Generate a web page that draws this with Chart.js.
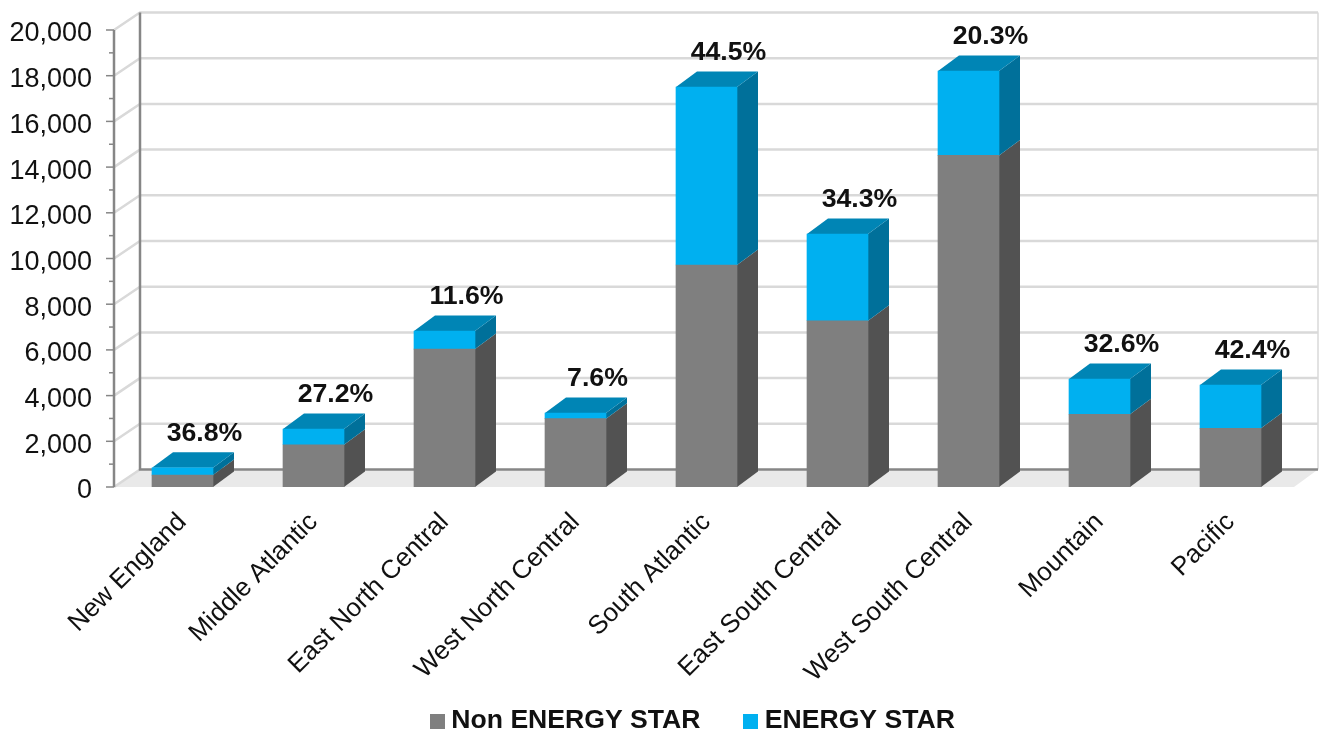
<!DOCTYPE html>
<html><head><meta charset="utf-8">
<style>html,body{margin:0;padding:0;background:#fff}canvas{display:block}</style>
<script src="https://cdn.jsdelivr.net/npm/chart.js@4"></script>
</head><body><canvas id="c" width="1319" height="731"></canvas>
<script>
const categories = ["New England","Middle Atlantic","East North Central","West North Central","South Atlantic","East South Central","West South Central","Mountain","Pacific"];
const nonEnergyStar = [520,1848,6035,2992,9715,7274,14510,3185,2571];
const energyStar = [320,690,792,246,7790,3798,3696,1541,1893];
const shareLabels = ["36.8%","27.2%","11.6%","7.6%","44.5%","34.3%","20.3%","32.6%","42.4%"];
const FONT = '"Liberation Sans", Arial, sans-serif';
const TEXT = '#111';
const LEGEND_GAP = 50;

function swatch(color){
  const s=document.createElement('canvas'); s.width=15; s.height=15;
  const g=s.getContext('2d'); g.fillStyle=color; g.fillRect(0,0,15,15); return s;
}
const swatches=[swatch('#7f7f7f'),swatch('#00b0f0')];

const wall3d={
  id:'wall3d',
  afterLayout(chart){
    const l=chart.legend;
    l.left=437-LEGEND_GAP; l.right=1319; l.top=721-LEGEND_GAP-13.3; l.bottom=731;
    chart.scales.x.bottom=731;
    const y=chart.scales.y, a=chart.chartArea;
    y.top=a.top=30; y.bottom=a.bottom=487; y.height=a.height=457;
    y.configure();
  },
  beforeDatasetsDraw(chart){
    const {ctx,chartArea:a,scales:{y}}=chart;
    const fx=a.left-3, bx=fx+26, dy=17.5, rx=1318, frx=1294;
    const base=y.getPixelForValue(0);
    ctx.save();
    ctx.fillStyle='#e9e9e9';
    ctx.beginPath();ctx.moveTo(fx,base);ctx.lineTo(bx,base-dy);ctx.lineTo(rx,base-dy);ctx.lineTo(frx,base);ctx.closePath();ctx.fill();
    ctx.lineWidth=2.5;ctx.strokeStyle='#d9d9d9';
    y.ticks.forEach(t=>{
      const p=y.getPixelForValue(t.value);
      ctx.beginPath();ctx.moveTo(fx,p);ctx.lineTo(bx,p-dy);
      if(t.value>0)ctx.lineTo(rx,p-dy);
      ctx.stroke();
    });
    ctx.lineWidth=1.5;ctx.beginPath();ctx.moveTo(rx,y.getPixelForValue(20000)-dy);ctx.lineTo(rx,base-dy);ctx.stroke();
    ctx.strokeStyle='#868686';ctx.lineWidth=2.5;
    ctx.beginPath();ctx.moveTo(bx,y.getPixelForValue(20000)-dy);ctx.lineTo(bx,base-dy);ctx.lineTo(rx,base-dy);ctx.stroke();
    ctx.beginPath();ctx.moveTo(fx,y.getPixelForValue(20000));ctx.lineTo(fx,base);ctx.stroke();
    ctx.lineWidth=1.5;
    y.ticks.forEach((t,i)=>{
      const p=y.getPixelForValue(t.value);
      ctx.beginPath();ctx.moveTo(fx-8,p);ctx.lineTo(fx,p);ctx.stroke();
      if(i<y.ticks.length-1){
        const m=y.getPixelForValue(t.value+1000);
        ctx.beginPath();ctx.moveTo(fx-5,m);ctx.lineTo(fx,m);ctx.stroke();
      }
    });
    const dx=21, dz=15.5;
    const sides=['#525252','#00709a'];
    chart.data.datasets.forEach((ds,di)=>{
      chart.getDatasetMeta(di).data.forEach(el=>{
        const r=el.x+el.width/2;
        ctx.fillStyle=sides[di];
        ctx.beginPath();ctx.moveTo(r,el.base);ctx.lineTo(r+dx,el.base-dz);ctx.lineTo(r+dx,el.y-dz);ctx.lineTo(r,el.y);ctx.closePath();ctx.fill();
        if(di===chart.data.datasets.length-1){
          const l=el.x-el.width/2;
          ctx.fillStyle='#0085b5';
          ctx.beginPath();ctx.moveTo(l,el.y);ctx.lineTo(l+dx,el.y-dz);ctx.lineTo(r+dx,el.y-dz);ctx.lineTo(r,el.y);ctx.closePath();ctx.fill();
        }
      });
    });
    ctx.restore();
  },
  afterDatasetsDraw(chart){
    const {ctx}=chart;
    const meta=chart.getDatasetMeta(chart.data.datasets.length-1);
    ctx.save();
    ctx.font='bold 26.7px '+FONT;ctx.fillStyle=TEXT;ctx.textAlign='center';ctx.textBaseline='middle';
    meta.data.forEach((el,i)=>ctx.fillText(shareLabels[i],el.x+22,el.y-34));
    ctx.restore();
  }
};

new Chart(document.getElementById('c'),{
  type:'bar',
  data:{labels:categories,datasets:[
    {label:'Non ENERGY STAR',data:nonEnergyStar,backgroundColor:'#7f7f7f',barThickness:61},
    {label:'ENERGY STAR',data:energyStar,backgroundColor:'#00b0f0',barThickness:61}
  ]},
  options:{
    responsive:false,animation:false,
    layout:{autoPadding:false,padding:{top:19.5,right:23,left:0,bottom:0}},
    plugins:{
      tooltip:{enabled:false},
      legend:{position:'bottom',align:'start',
        labels:{boxWidth:1,boxHeight:15,padding:LEGEND_GAP,usePointStyle:true,color:TEXT,font:{family:FONT,size:26.6,weight:'bold'},
          generateLabels(chart){
            return chart.data.datasets.map((d,i)=>({text:d.label,datasetIndex:i,fontColor:TEXT,hidden:false,lineWidth:0,pointStyle:swatches[i]}));
          }}}
    },
    scales:{
      x:{stacked:true,grid:{display:false},border:{display:false},
        ticks:{minRotation:45,maxRotation:45,autoSkip:false,padding:11,color:TEXT,font:{family:FONT,size:26}},
        afterFit(s){s.height=Math.max(10,731-488-s.chart.legend.height);}},
      y:{stacked:true,min:0,max:20000,grid:{display:false},border:{display:false},
        ticks:{stepSize:2000,padding:17,labelOffset:4,color:TEXT,font:{family:FONT,size:27},callback:v=>v.toLocaleString('en-US')},
        afterFit(s){s.width=117;}}
    }
  },
  plugins:[wall3d]
});
</script></body></html>
